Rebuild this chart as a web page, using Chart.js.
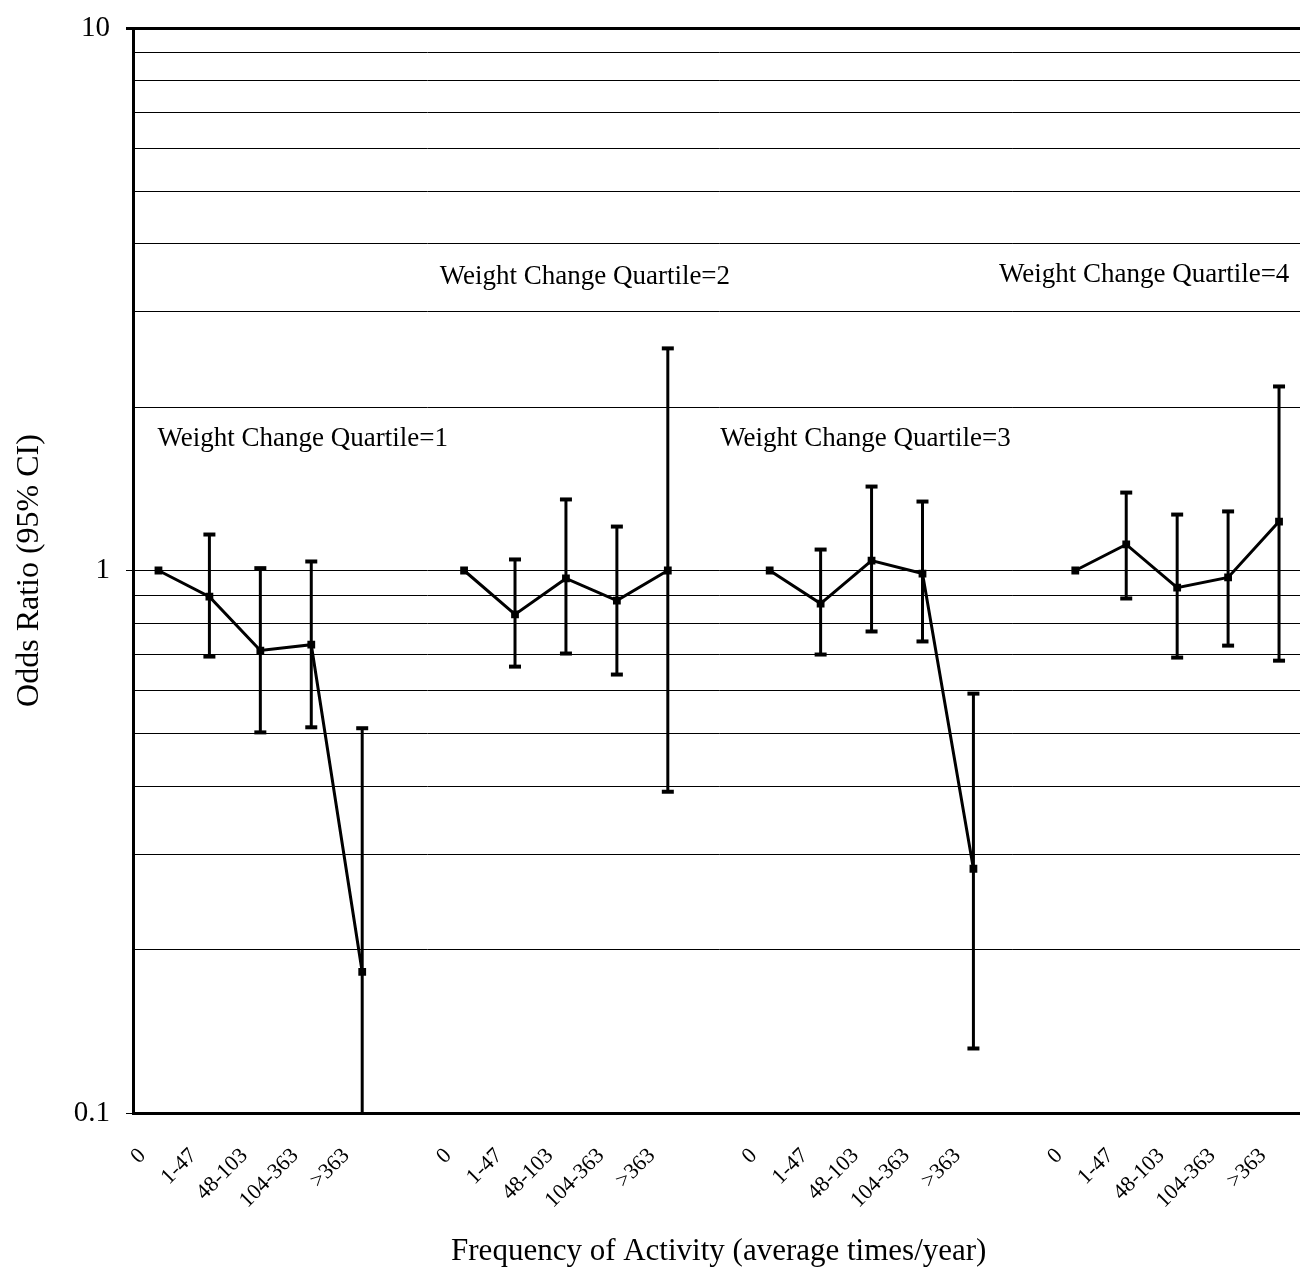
<!DOCTYPE html>
<html>
<head>
<meta charset="utf-8">
<script src="https://cdn.jsdelivr.net/npm/chart.js@4.4.1/dist/chart.umd.min.js"></script>
<style>
  html, body { margin: 0; padding: 0; background: #fff; overflow: hidden; }
  #wrap { width: 1310px; height: 1274px; }
</style>
</head>
<body>
<div id="wrap"><canvas id="orChart" width="1310" height="1274"></canvas></div>
<script>
// x categories: 4 quartile groups, blank slot between groups
const categories = [
    '0', '1-47', '48-103', '104-363', '>363', '',
    '0', '1-47', '48-103', '104-363', '>363', '',
    '0', '1-47', '48-103', '104-363', '>363', '',
    '0', '1-47', '48-103', '104-363', '>363'
];

// odds ratios
const oddsRatio = [
    1.00, 0.895, 0.712, 0.730, 0.182, null,
    1.00, 0.830, 0.967, 0.880, 1.00, null,
    1.00, 0.869, 1.043, 0.987, 0.282, null,
    1.00, 1.117, 0.930, 0.971, 1.231
];
const ciLower = [
    null, 0.694, 0.503, 0.514, 0.08, null,
    null, 0.665, 0.703, 0.643, 0.391, null,
    null, 0.700, 0.772, 0.740, 0.1315, null,
    null, 0.888, 0.691, 0.727, 0.682
];
const ciUpper = [
    null, 1.165, 1.01, 1.039, 0.512, null,
    null, 1.048, 1.352, 1.205, 2.567, null,
    null, 1.093, 1.428, 1.340, 0.593, null,
    null, 1.392, 1.268, 1.285, 2.184
];

const yTickValues = [0.1, 0.2, 0.3, 0.4, 0.5, 0.6, 0.7, 0.8, 0.9, 1, 2, 3, 4, 5, 6, 7, 8, 9, 10];
const yTickLabels = { 0.1: '0.1', 1: '1', 10: '10' };

const groupNotes = ['Weight Change Quartile=1', 'Weight Change Quartile=2', 'Weight Change Quartile=3', 'Weight Change Quartile=4'];
// where each note sits: category index of its left edge, odds-ratio level of its middle
const notePlaces = [[-0.02, 1.75], [5.52, 3.47], [11.03, 1.75], [16.5, 3.51]];

const SERIF = '"Liberation Serif", "Times New Roman", serif';

// drop the extra room chart.js keeps for edge labels, so layout.padding decides the plot box
function noEdgePadding(s) {
    s.paddingLeft = 0;
    s.paddingRight = 0;
    s.paddingTop = 0;
    s.paddingBottom = 0;
}

const errorBars = {
    id: 'errorBars',
    beforeDatasetsDraw(chart) {
        const { ctx, chartArea, scales: { x, y } } = chart;
        ctx.save();
        ctx.strokeStyle = '#000';
        ciLower.forEach((lo, i) => {
            if (lo == null) return;
            const px = x.getPixelForValue(i);
            const yHi = y.getPixelForValue(ciUpper[i]);
            const yLo = y.getPixelForValue(lo);
            const top = Math.max(yHi, chartArea.top);
            const bot = Math.min(yLo, chartArea.bottom);
            ctx.lineWidth = 3;
            ctx.beginPath();
            ctx.moveTo(px, top);
            ctx.lineTo(px, bot);
            ctx.stroke();
            ctx.lineWidth = 4;
            [yHi, yLo].forEach(cy => {
                if (cy < chartArea.top || cy > chartArea.bottom - 2) return;
                ctx.beginPath();
                ctx.moveTo(px - 6, cy);
                ctx.lineTo(px + 6, cy);
                ctx.stroke();
            });
        });
        ctx.restore();
    }
};

const quartileNotes = {
    id: 'quartileNotes',
    afterDraw(chart) {
        const { ctx, scales: { x, y } } = chart;
        ctx.save();
        ctx.fillStyle = '#000';
        ctx.font = '27px ' + SERIF;
        ctx.textAlign = 'left';
        ctx.textBaseline = 'middle';
        groupNotes.forEach((txt, i) => {
            const [xi, yv] = notePlaces[i];
            const x0 = x.getPixelForValue(0) + (x.getPixelForValue(1) - x.getPixelForValue(0)) * xi;
            ctx.fillText(txt, x0, y.getPixelForValue(yv));
        });
        ctx.restore();
    }
};

new Chart(document.getElementById('orChart').getContext('2d'), {
    type: 'line',
    data: {
        labels: categories,
        datasets: [{
            data: oddsRatio,
            borderColor: '#000',
            borderWidth: 3,
            backgroundColor: '#000',
            pointStyle: 'rect',
            pointRadius: 5.5,
            pointBorderWidth: 0,
            tension: 0,
            spanGaps: false
        }]
    },
    options: {
        responsive: false,
        animation: false,
        layout: { padding: { top: 28, right: 4, left: 0, bottom: 0 } },
        plugins: { legend: { display: false }, tooltip: { enabled: false } },
        scales: {
            x: {
                offset: true,
                grid: { display: false },
                border: { display: true, color: '#000', width: 3 },
                ticks: {
                    color: '#000',
                    font: { family: SERIF, size: 22 },
                    autoSkip: false,
                    minRotation: 45,
                    maxRotation: 45,
                    padding: 22,
                    labelOffset: -16
                },
                title: {
                    display: true,
                    text: 'Frequency of Activity (average times/year)',
                    color: '#000',
                    font: { family: SERIF, size: 31 },
                    padding: { top: 0, bottom: 4 }
                },
                afterFit(s) {
                    s.height = 161;
                    noEdgePadding(s);
                }
            },
            y: {
                type: 'logarithmic',
                min: 0.1,
                max: 10,
                afterBuildTicks(s) { s.ticks = yTickValues.map(v => ({ value: v })); },
                grid: {
                    color: '#000',
                    lineWidth: c => (c.tick && c.tick.value === 10 ? 3 : 1),
                    tickLength: 7,
                    tickColor: c => (c.tick && yTickLabels[c.tick.value] ? '#000' : 'rgba(0,0,0,0)'),
                    drawTicks: true
                },
                border: { display: true, color: '#000', width: 3 },
                ticks: {
                    color: '#000',
                    font: { family: SERIF, size: 29 },
                    padding: 16,
                    autoSkip: false,
                    callback: v => yTickLabels[v] || ''
                },
                title: {
                    display: true,
                    text: 'Odds Ratio (95% CI)',
                    color: '#000',
                    font: { family: SERIF, size: 32 },
                    padding: { top: 10, bottom: 0 }
                },
                afterFit(s) {
                    s.width = 133;
                    noEdgePadding(s);
                }
            }
        }
    },
    plugins: [errorBars, quartileNotes]
});
</script>
</body>
</html>
